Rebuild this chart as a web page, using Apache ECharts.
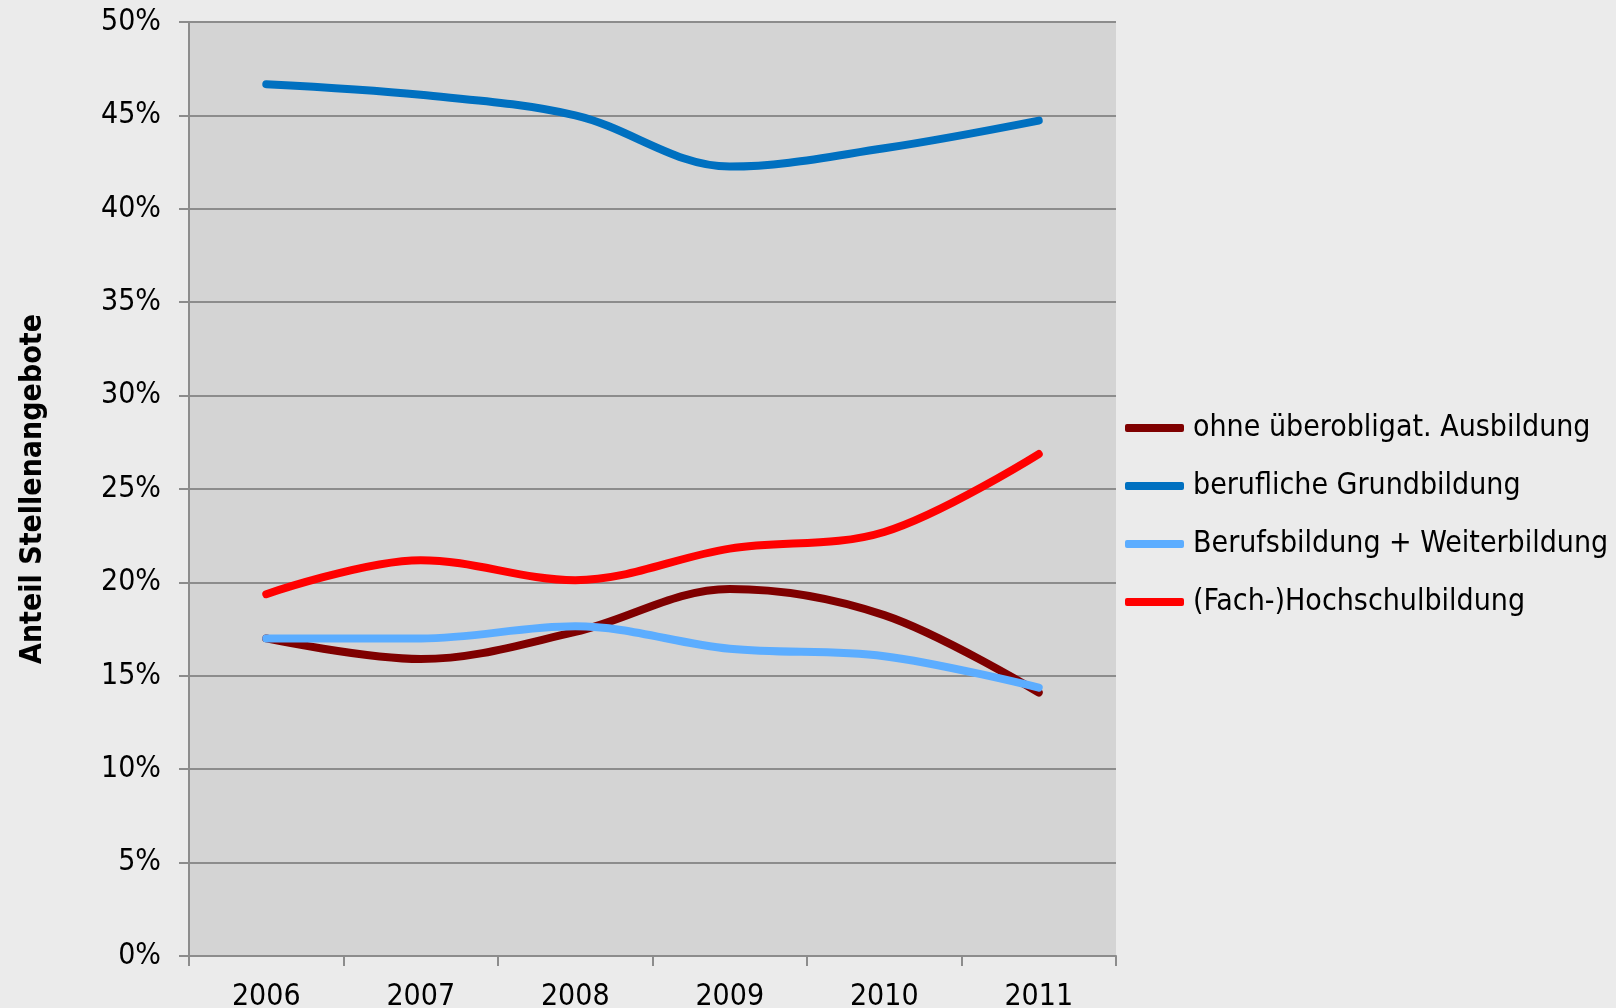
<!DOCTYPE html>
<html>
<head>
<meta charset="utf-8">
<script src="https://cdn.jsdelivr.net/npm/echarts@6/dist/echarts.min.js"></script>
<style>
html,body{margin:0;padding:0;background:#ebebeb;}
#chart{width:1616px;height:1008px;}
</style>
</head>
<body>
<div id="chart"></div>
<script>
var years = ['2006', '2007', '2008', '2009', '2010', '2011'];
var seriesNames = ['ohne überobligat. Ausbildung', 'berufliche Grundbildung', 'Berufsbildung + Weiterbildung', '(Fach-)Hochschulbildung'];
var ohne = [17.0, 15.9, 17.35, 19.65, 18.25, 14.1];
var grund = [46.67, 46.1, 45.0, 42.26, 43.24, 44.72];
var weiter = [17.0, 17.0, 17.65, 16.45, 16.05, 14.37];
var hoch = [19.37, 21.19, 20.12, 21.81, 22.7, 26.87];
var colors = ['#7f0000', '#0070c0', '#5cadff', '#ff0000'];
var yTicks = { min: 0, max: 50, interval: 5 };

var FONT = '"Liberation Sans Narrow", "DejaVu Sans Condensed", "Liberation Sans", sans-serif';
var chart = echarts.init(document.getElementById('chart'));
var dataSets = [ohne, grund, weiter, hoch];
chart.setOption({
  backgroundColor: '#ebebeb',
  textStyle: { fontFamily: FONT },
  grid: { left: 189, right: 500, top: 22, bottom: 52, show: true, backgroundColor: '#d4d4d4', borderWidth: 0, containLabel: false, outerBoundsMode: 'none' },
  legend: {
    orient: 'vertical',
    left: 1125,
    top: 413,
    padding: 0,
    itemWidth: 59,
    itemHeight: 8,
    itemGap: 28,
    icon: 'roundRect',
    data: seriesNames,
    textStyle: { fontFamily: FONT, fontSize: 30, color: '#000', padding: [0, 0, 0, 4] }
  },
  xAxis: {
    type: 'category',
    data: years,
    boundaryGap: true,
    axisLine: { show: true, lineStyle: { color: '#8c8c8c', width: 2 } },
    axisTick: { show: true, length: 10, lineStyle: { color: '#8c8c8c', width: 2 } },
    axisLabel: { fontFamily: FONT, fontSize: 30, color: '#000', margin: 26 },
    splitLine: { show: false }
  },
  yAxis: {
    type: 'value',
    min: yTicks.min,
    max: yTicks.max,
    interval: yTicks.interval,
    name: 'Anteil Stellenangebote',
    nameLocation: 'middle',
    nameRotate: 90,
    nameGap: 141,
    nameTextStyle: { fontFamily: FONT, fontSize: 30, fontWeight: 'bold', color: '#000' },
    axisLine: { show: true, lineStyle: { color: '#8c8c8c', width: 2 } },
    axisTick: { show: true, length: 10, lineStyle: { color: '#8c8c8c', width: 2 } },
    axisLabel: { fontFamily: FONT, fontSize: 30, color: '#000', margin: 28, formatter: '{value}%' },
    splitLine: { show: true, lineStyle: { color: '#8c8c8c', width: 2 } }
  },
  series: seriesNames.map(function (n, i) {
    return {
      name: n,
      type: 'line',
      data: dataSets[i],
      smooth: 0.35,
      showSymbol: false,
      symbol: 'none',
      itemStyle: { color: colors[i] },
      lineStyle: { color: colors[i], width: 8, cap: 'round', join: 'round' }
    };
  })
});
</script>
</body>
</html>
